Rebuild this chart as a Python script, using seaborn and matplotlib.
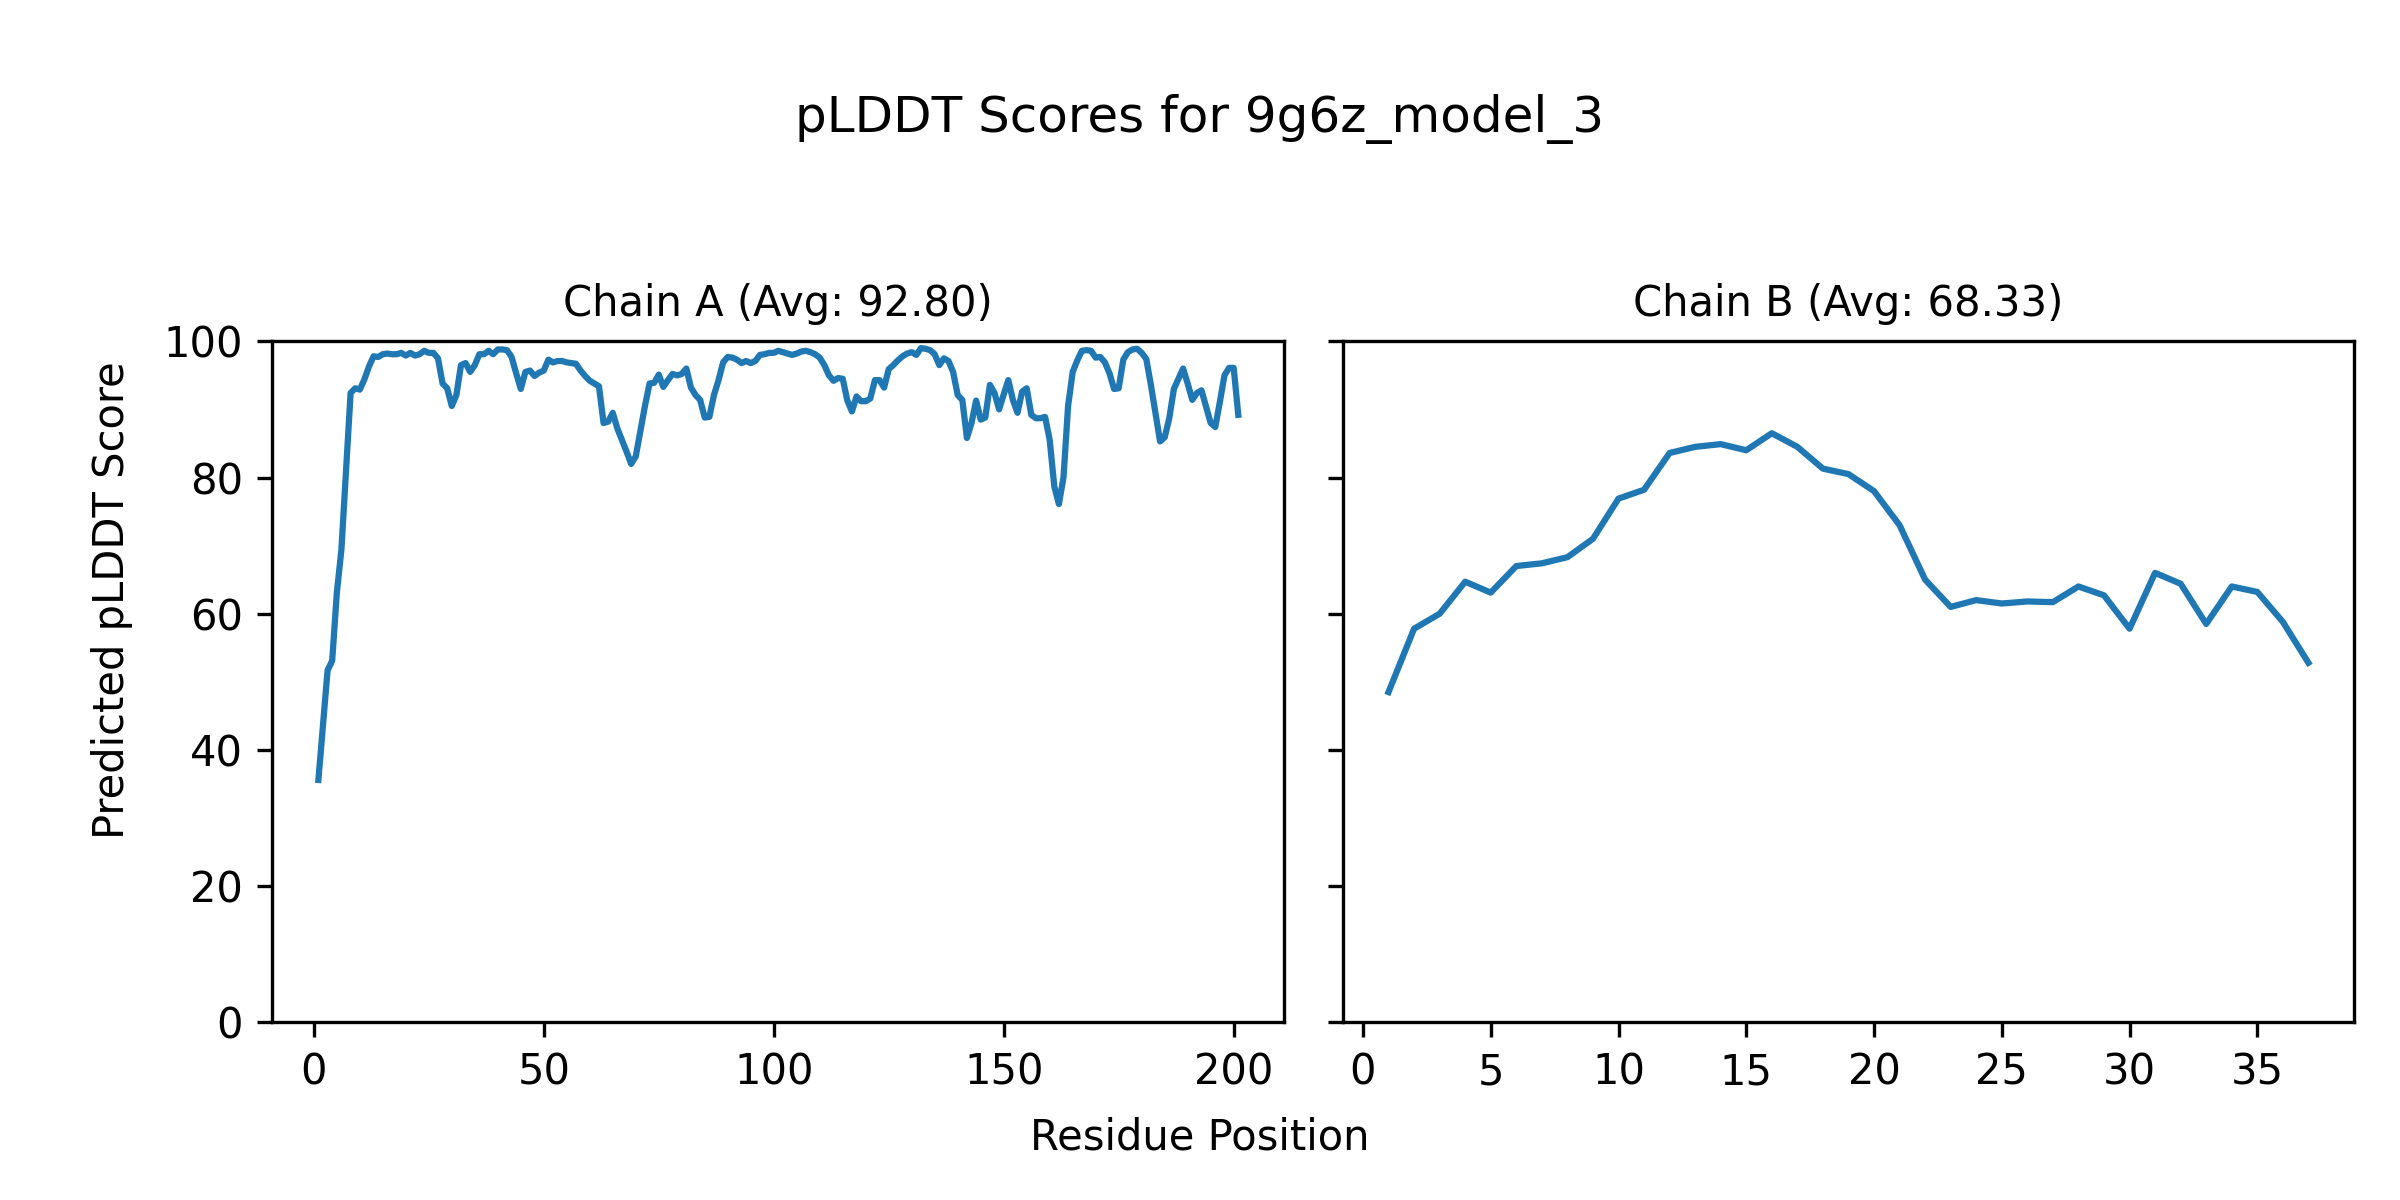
import numpy as np
import pandas as pd
import matplotlib
matplotlib.use("Agg")
import matplotlib.pyplot as plt
import seaborn as sns

title = "pLDDT Scores for 9g6z_model_3"
chain_a_label = "Chain A (Avg: 92.80)"
chain_b_label = "Chain B (Avg: 68.33)"

chain_a_scores = [
    35.6, 43.7, 51.7, 53.1, 63.0, 69.4, 81.0, 92.4, 93.1, 92.9,
    94.4, 96.3, 97.8, 97.7, 98.1, 98.2, 98.1, 98.1, 98.3, 97.9,
    98.3, 97.9, 98.1, 98.6, 98.3, 98.3, 97.5, 93.8, 93.1, 90.5,
    92.1, 96.5, 96.8, 95.5, 96.5, 98.1, 98.1, 98.6, 98.1, 98.8,
    98.8, 98.7, 97.7, 95.3, 93.0, 95.5, 95.7, 94.9, 95.4, 95.7,
    97.3, 96.9, 97.1, 97.1, 96.9, 96.8, 96.7, 95.7, 94.9, 94.2,
    93.8, 93.4, 88.0, 88.2, 89.5, 87.2, 85.5, 83.8, 82.0, 83.1,
    86.8, 90.5, 93.8, 93.9, 95.1, 93.3, 94.3, 95.2, 95.0, 95.2,
    96.0, 93.2, 92.1, 91.4, 88.8, 88.9, 92.1, 94.3, 96.9, 97.7,
    97.6, 97.3, 96.8, 97.1, 96.8, 97.1, 98.0, 98.1, 98.3, 98.3,
    98.6, 98.4, 98.2, 98.0, 98.2, 98.5, 98.6, 98.4, 98.1, 97.6,
    96.5, 95.0, 94.2, 94.6, 94.5, 91.3, 89.7, 91.9, 91.2, 91.2,
    91.6, 94.3, 94.3, 93.2, 95.9, 96.5, 97.2, 97.8, 98.2, 98.4,
    98.0, 99.0, 98.9, 98.7, 98.1, 96.5, 97.5, 97.1, 95.5, 92.1,
    91.4, 85.8, 88.0, 91.3, 88.5, 88.8, 93.6, 92.4, 90.0, 92.2,
    94.3, 91.4, 89.5, 92.6, 93.1, 89.2, 88.7, 88.7, 88.9, 85.5,
    78.7, 76.1, 80.0, 90.5, 95.5, 97.2, 98.6, 98.7, 98.6, 97.6,
    97.7, 96.9, 95.3, 93.0, 93.1, 97.3, 98.4, 98.8, 98.9, 98.3,
    97.4, 93.6, 89.5, 85.3, 85.9, 88.7, 93.0, 94.5, 96.0, 93.8,
    91.4, 92.4, 92.8, 90.4, 88.0, 87.4, 91.1, 95.0, 96.1, 96.1,
    89.2,
]

chain_b_scores = [
    48.5, 57.8, 60.0, 64.7, 63.1, 67.0, 67.4, 68.3, 71.0, 76.9,
    78.2, 83.6, 84.5, 84.9, 84.0, 86.5, 84.5, 81.3, 80.5, 78.0,
    73.0, 65.0, 61.0, 62.0, 61.5, 61.8, 61.7, 64.0, 62.7, 57.8,
    66.0, 64.4, 58.5, 64.0, 63.2, 58.8, 52.8,
]

df_a = pd.DataFrame({"pos": np.arange(1, len(chain_a_scores) + 1), "score": chain_a_scores})
df_b = pd.DataFrame({"pos": np.arange(1, len(chain_b_scores) + 1), "score": chain_b_scores})

fig, axes = plt.subplots(1, 2, figsize=(8, 4), dpi=300, sharey=True)
fig.subplots_adjust(left=0.1135, right=0.981, bottom=0.148, top=0.7156, wspace=0.0576)

sns.lineplot(data=df_a, x="pos", y="score", ax=axes[0], color="#1f77b4", linewidth=1.5)
sns.lineplot(data=df_b, x="pos", y="score", ax=axes[1], color="#1f77b4", linewidth=1.5)

axes[0].set_title(chain_a_label, fontsize=10)
axes[1].set_title(chain_b_label, fontsize=10)
for ax in axes:
    ax.set_xlabel("")
    ax.set_ylabel("")
    ax.set_ylim(0, 100)

fig.suptitle(title, y=0.9005, va="center", fontsize=12)
fig.supxlabel("Residue Position", y=0.0523, va="center", fontsize=10)
fig.supylabel("Predicted pLDDT Score", x=0.0466, ha="center", va="center", fontsize=10)

fig.savefig("out.png", dpi=300)
